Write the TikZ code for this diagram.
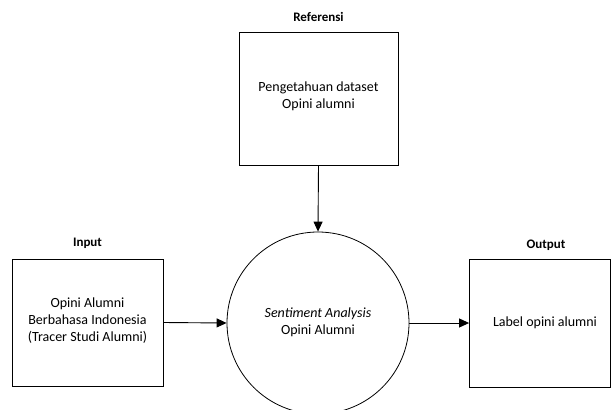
\documentclass[tikz,border=0pt]{standalone}
\usepackage{fontspec}
\setmainfont{Carlito}
\usetikzlibrary{arrows.meta}
\begin{document}
\begin{tikzpicture}[x=1pt,y=-1pt,
  box/.style={draw,line width=0.8pt,inner sep=0pt},
  txt/.style={align=center,font=\fontsize{14}{17}\selectfont},
  ttl/.style={font=\bfseries\fontsize{13}{15}\selectfont},
  arr/.style={-{Triangle[length=10pt,width=9pt]},line width=0.9pt}]
\useasboundingbox (0,0) rectangle (611,410);
\node[box,minimum width=159pt,minimum height=133pt] (ref) at (318.5,98.5) {};
\node[txt] (reft) at (318.5,96) {Pengetahuan dataset\\Opini alumni};
\node[ttl] (refl) at (318.5,17) {Referensi};
\node[box,minimum width=151pt,minimum height=127pt] (inp) at (87.5,322.5) {};
\node[txt] (inpt) at (87.5,321) {Opini Alumni\\Berbahasa Indonesia\\(Tracer Studi Alumni)};
\node[ttl] (inpl) at (87.5,243) {Input};
\node[box,minimum width=141pt,minimum height=128pt] (out) at (540,323) {};
\node[txt] (outt) at (545,323) {Label opini alumni};
\node[ttl] (outl) at (546,245) {Output};
\node[draw,circle,line width=0.8pt,minimum size=182pt,inner sep=0pt] (sa) at (318,323) {};
\node[txt] (sat) at (318,322) {\textit{Sentiment Analysis}\\Opini Alumni};
\draw[arr] (ref.south) -- (sa.north);
\draw[arr] (inp.east) -- (sa.west);
\draw[arr] (sa.east) -- (out.west);
\end{tikzpicture}
\end{document}
